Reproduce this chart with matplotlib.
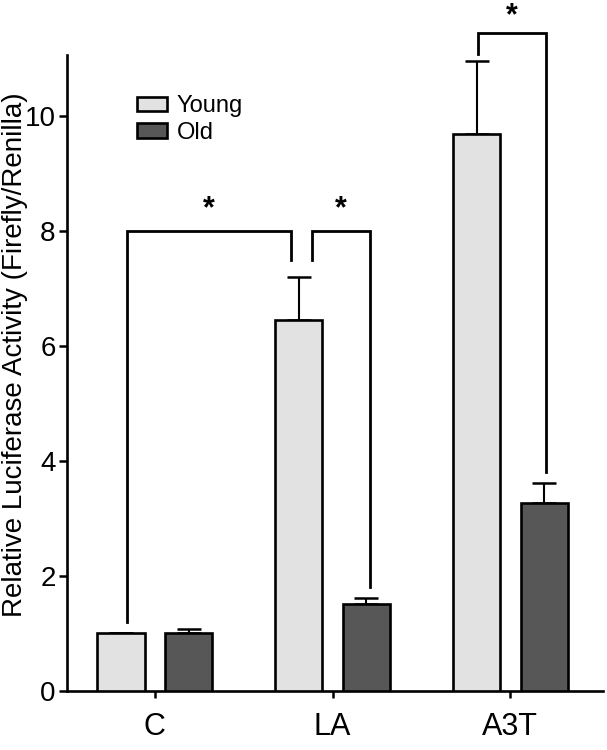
import numpy as np
import matplotlib
matplotlib.use('Agg')
import matplotlib.pyplot as plt
from matplotlib.patches import Patch

plt.rcParams['font.family'] = ['Liberation Sans', 'DejaVu Sans']

# Data
groups = ['C', 'LA', 'A3T']
series = ['Young', 'Old']
young_mean = [1.0, 6.45, 9.68]
young_err = [0.0, 0.75, 1.27]
old_mean = [1.0, 1.52, 3.27]
old_err = [0.08, 0.09, 0.35]

# significance brackets: (x left, x right, top, left end, right end)
brk_left = [-0.157, 0.882, 1.82]
brk_right = [0.764, 1.208, 2.20]
brk_top = [8.0, 8.0, 11.44]
brk_left_end = [1.2, 7.5, 11.07]
brk_right_end = [7.5, 1.8, 3.8]
brk_label = ['*', '*', '*']
star_gap = [0.12, 0.12, 0.03]

young_color = '#e2e2e2'
old_color = '#575757'

fig = plt.figure(figsize=(6.07, 7.5), dpi=100)
ax = fig.add_axes([0.110, 0.0787, 0.883, 0.848])

x = np.arange(len(groups))
width = 0.265
offset = 0.19

ax.bar(x - offset, young_mean, width, color=young_color, edgecolor='black', linewidth=1.9, zorder=3)
ax.bar(x + offset, old_mean, width, color=old_color, edgecolor='black', linewidth=1.9, zorder=3)

ax.errorbar(x - offset, young_mean, yerr=[np.zeros(3), young_err], fmt='none',
            ecolor='black', elinewidth=1.5, capsize=8.5, capthick=1.8, zorder=2)
ax.errorbar(x + offset, old_mean, yerr=[np.zeros(3), old_err], fmt='none',
            ecolor='black', elinewidth=1.5, capsize=8.5, capthick=1.8, zorder=2)

for xl, xr, yt, yl, yr, lab, gap in zip(brk_left, brk_right, brk_top, brk_left_end,
                                         brk_right_end, brk_label, star_gap):
    ax.plot([xl, xl, xr, xr], [yl, yt, yt, yr], color='black', lw=2.0,
            clip_on=False, solid_joinstyle='miter', zorder=4)
    ax.text((xl + xr) / 2, yt + gap, lab, ha='center', va='bottom',
            fontsize=22, fontweight='bold', clip_on=False)

ax.set_xlim(-0.495, 2.52)
ax.set_ylim(0, 11.06)
ax.set_yticks([0, 2, 4, 6, 8, 10])
ax.set_xticks(x)
ax.set_xticklabels(groups)
ax.set_ylabel('Relative Luciferase Activity (Firefly/Renilla)', fontsize=20)
ax.yaxis.set_label_coords(-0.073, 0.528)

for side in ['top', 'right']:
    ax.spines[side].set_visible(False)
for side in ['left', 'bottom']:
    ax.spines[side].set_linewidth(1.9)
ax.tick_params(axis='y', labelsize=20, width=1.8, length=6, pad=2)
ax.tick_params(axis='x', labelsize=22, width=1.8, length=5, pad=10)

handles = [Patch(facecolor=young_color, edgecolor='black', linewidth=1.9),
           Patch(facecolor=old_color, edgecolor='black', linewidth=1.9)]
ax.legend(handles, series, loc='upper left', bbox_to_anchor=(0.131, 0.937),
          frameon=False, fontsize=17, handlelength=1.27, handleheight=0.55,
          handletextpad=0.42, labelspacing=0.2, borderpad=0, borderaxespad=0)

plt.savefig('out.png', dpi=100)
